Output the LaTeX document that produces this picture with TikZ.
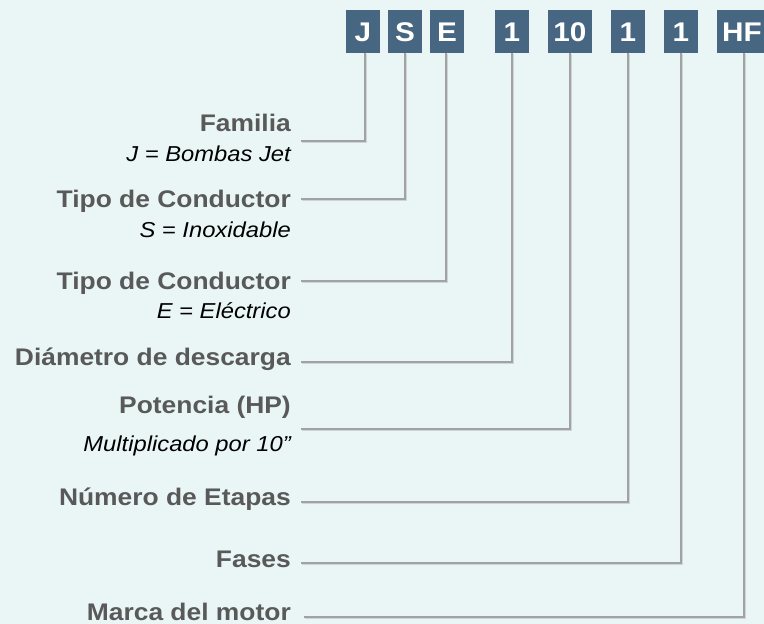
\documentclass[tikz,border=0pt]{standalone}
\usepackage{fontspec}
\setmainfont[FakeStretch=1.1]{Liberation Sans}
\definecolor{bgc}{HTML}{EAF6F6}
\definecolor{boxc}{HTML}{476681}
\definecolor{lblc}{HTML}{595959}
\definecolor{linec}{HTML}{A2A2A2}
\definecolor{shadc}{HTML}{CCD6D6}
\begin{document}
\begin{tikzpicture}[x=1pt,y=-1pt,
  codebox/.style={fill=boxc, text=white, inner sep=0pt, minimum height=43pt,
    font=\fontsize{27}{30}\selectfont\bfseries, text height=19.3pt, text depth=0pt},
  lbl/.style={anchor=base east, inner sep=0pt, text=lblc, font=\fontsize{24}{28}\selectfont\bfseries},
  desc/.style={anchor=base east, inner sep=0pt, text=black, font=\fontsize{21.6}{26}\selectfont\itshape},
  conn/.style={draw=linec, line width=1.3pt},
  connsh/.style={draw=shadc, line width=1.3pt, transform canvas={shift={(0.9pt,-0.9pt)}}}]
\clip (0,0) rectangle (764,624);
\fill[bgc] (0,0) rectangle (764,624);
% code boxes
\node[codebox, minimum width=34pt] (bJ)  at (363,31.5) {J};
\node[codebox, minimum width=34pt] (bS)  at (405,31.5) {S};
\node[codebox, minimum width=34pt] (bE)  at (447,31.5) {E};
\node[codebox, minimum width=34pt] (bD)  at (512,31.5) {1};
\node[codebox, minimum width=44pt] (bP)  at (570,31.5) {10};
\node[codebox, minimum width=34pt] (bN)  at (628,31.5) {1};
\node[codebox, minimum width=34pt] (bF)  at (681,31.5) {1};
\node[codebox, minimum width=50pt] (bHF) at (742,31.5) {HF};
% labels
\node[lbl]  (lFam) at (291,131.7) {Familia};
\node[desc] (dFam) at (291,161) {J = Bombas Jet};
\node[lbl]  (lTS)  at (291,207) {Tipo de Conductor};
\node[desc] (dTS)  at (291,237) {S = Inoxidable};
\node[lbl]  (lTE)  at (291,289) {Tipo de Conductor};
\node[desc] (dTE)  at (291,318) {E = Eléctrico};
\node[lbl]  (lDia) at (291,365) {Diámetro de descarga};
\node[lbl]  (lPot) at (291,413) {Potencia (HP)};
\node[desc] (dPot) at (291,451) {Multiplicado por 10”};
\node[lbl]  (lNum) at (291,505) {Número de Etapas};
\node[lbl]  (lFas) at (291,567) {Fases};
\node[lbl]  (lMar) at (291,620) {Marca del motor};
% connector start points
\coordinate (cFam) at (301,141);
\coordinate (cTS)  at (301,199);
\coordinate (cTE)  at (301,281);
\coordinate (cDia) at (301,362);
\coordinate (cPot) at (301,429);
\coordinate (cNum) at (301,502);
\coordinate (cFas) at (301,563);
\coordinate (cMar) at (304,617);
% connectors (shadow, then line)
\foreach \c/\b/\s in {cFam/bJ/2pt, cTS/bS/0pt, cTE/bE/-1pt, cDia/bD/0pt, cPot/bP/0pt, cNum/bN/0pt, cFas/bF/0pt, cMar/bHF/2pt}{
  \draw[connsh] (\c) -| ([xshift=\s]\b.south);
  \draw[conn] (\c) -| ([xshift=\s]\b.south);
}
\end{tikzpicture}
\end{document}
